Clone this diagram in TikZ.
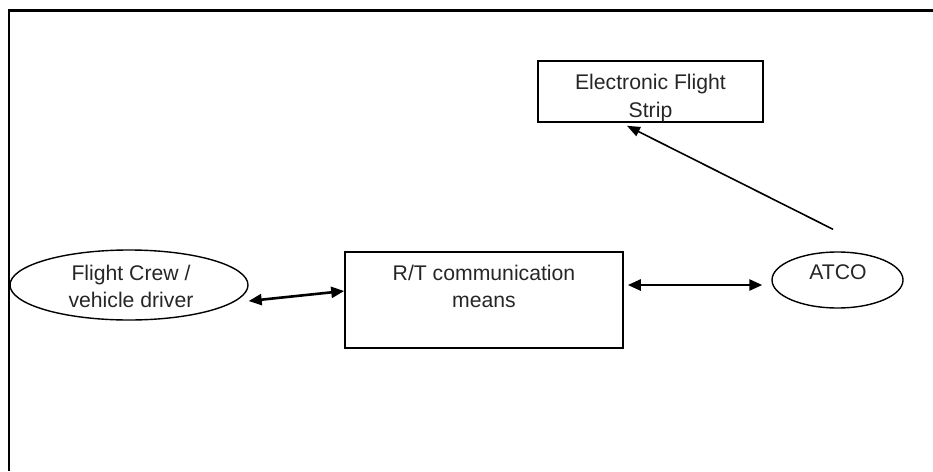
\documentclass[tikz,border=0pt]{standalone}
\usepackage{fontspec}
\setmainfont{Liberation Sans}
\usetikzlibrary{shapes.geometric,arrows.meta}
\tikzset{
  boxnode/.style={draw=black, line width=1.6pt, rectangle, inner sep=0pt},
  ovalnode/.style={draw=black, line width=1.4pt, ellipse, inner sep=0pt},
  txt/.style={align=center, font=\fontsize{21.2}{27.5}\selectfont, text=black!85, inner sep=0pt},
  dblarrow/.style={line width=2.6pt, {Triangle[length=13pt,width=11pt]}-{Triangle[length=13pt,width=11pt]}},
  onearrow/.style={line width=1.6pt, -{Triangle[length=13pt,width=10pt]}},
  frameline/.style={line width=2.6pt}
}
\begin{document}
\begin{tikzpicture}[x=1pt,y=-1pt]
\useasboundingbox (0,0) rectangle (933,471);
\draw[frameline] (933,10.5) -- (9,10.5) -- (9,471);
% nodes
\node[boxnode, minimum width=225pt, minimum height=61pt] (efs) at (650.5,91.5) {};
\node[boxnode, minimum width=278pt, minimum height=96pt] (rt) at (484,300) {};
\node[ovalnode, minimum width=238pt, minimum height=70pt] (fc) at (129,285) {};
\node[ovalnode, minimum width=131pt, minimum height=56pt] (atco) at (837.5,280) {};
% texts
\node[txt] (efst) at (650.5,98) {Electronic Flight\\Strip};
\node[txt] (rtt) at (484,286.5) {R/T communication\\means};
\node[txt] (fct) at (131,286.5) {Flight Crew /\\vehicle driver};
\node[txt] (atcot) at (838,272) {ATCO};
% connectors
\draw[dblarrow] ([yshift=-16pt]fc.east) -- ([yshift=9pt]rt.west);
\draw[dblarrow] ([xshift=4pt,yshift=15pt]rt.east) -- ([xshift=-9pt,yshift=-5pt]atco.west);
\draw[onearrow] ([xshift=-4.5pt,yshift=22pt]atco.north) -- ([xshift=-23.5pt,yshift=-3pt]efs.south);
\end{tikzpicture}
\end{document}
